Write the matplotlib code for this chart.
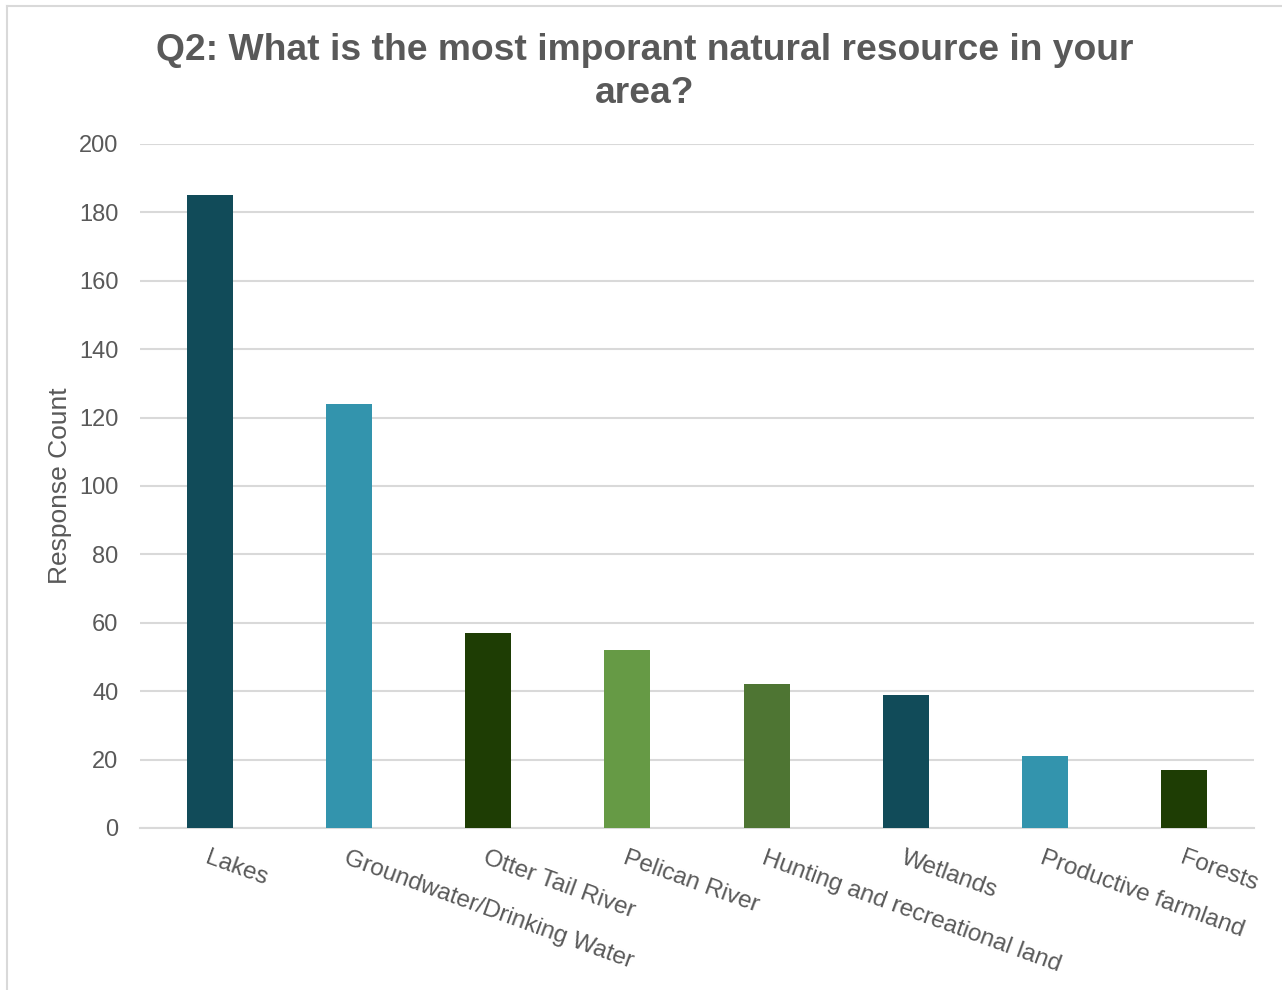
import matplotlib.pyplot as plt
from matplotlib.lines import Line2D

plt.rcParams['font.family'] = ['Liberation Sans', 'DejaVu Sans']

categories = ["Lakes", "Groundwater/Drinking Water", "Otter Tail River", "Pelican River",
              "Hunting and recreational land", "Wetlands", "Productive farmland", "Forests"]
counts = [185, 124, 57, 52, 42, 39, 21, 17]
colors = ["#114b59", "#3394ad", "#1e3d04", "#669a45", "#4e7533", "#114b59", "#3394ad", "#1e3d04"]
yticks = [0, 20, 40, 60, 80, 100, 120, 140, 160, 180, 200]

text_color = "#595959"
grid_color = "#d9d9d9"

fig = plt.figure(figsize=(12.82, 9.9), dpi=100)
ax = fig.add_axes([140 / 1282, 1 - 828 / 990, 1114 / 1282, 684 / 990])

x = range(len(categories))
ax.bar(x, counts, width=0.33, color=colors, zorder=3)

ax.set_xlim(-0.5, len(categories) - 0.5)
ax.set_ylim(0, 200)
ax.set_yticks(yticks)
ax.set_yticklabels([str(v) for v in yticks], fontsize=17, color=text_color)
ax.yaxis.grid(True, color=grid_color, linewidth=1.5, zorder=0)
ax.tick_params(axis='y', length=0, pad=15.5)

ax.set_xticks(list(x))
ax.set_xticklabels(categories, fontsize=17.5, color=text_color,
                   rotation=-20, ha='left', va='top', rotation_mode='anchor')
ax.tick_params(axis='x', length=0, pad=14)

for side in ["top", "right", "left"]:
    ax.spines[side].set_visible(False)
ax.spines["bottom"].set_color(grid_color)
ax.spines["bottom"].set_linewidth(1.5)

ax.set_ylabel("Response Count", fontsize=19, color=text_color, labelpad=5)

fig.text(645 / 1282, 1 - 72 / 990,
         "Q2: What is the most imporant natural resource in your\narea?",
         ha='center', va='center', fontsize=26.8, fontweight='bold',
         color=text_color, linespacing=1.32)

# thin outer frame along the top and left edges
fig.add_artist(Line2D([6.5 / 1282, 1], [1 - 5.5 / 990, 1 - 5.5 / 990],
                      transform=fig.transFigure, color=grid_color, linewidth=1.5))
fig.add_artist(Line2D([6.5 / 1282, 6.5 / 1282], [0, 1 - 5.5 / 990],
                      transform=fig.transFigure, color=grid_color, linewidth=1.5))

fig.savefig("out.png", dpi=100, facecolor="white")
